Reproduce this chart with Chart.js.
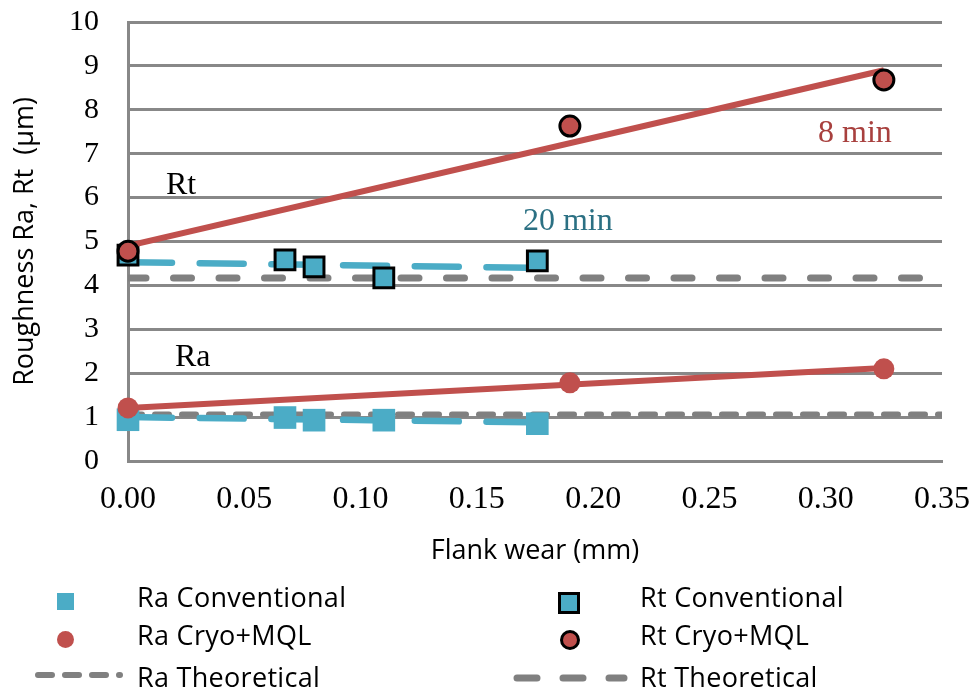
<!DOCTYPE html>
<html><head><meta charset="utf-8">
<script src="https://cdn.jsdelivr.net/npm/chart.js@4.4.0/dist/chart.umd.min.js"></script>
<style>
html,body{margin:0;padding:0;background:#fff;}
#wrap{position:relative;width:976px;height:695px;overflow:hidden;background:#fff;}
#c{position:absolute;left:0;top:0;}
.lg{position:absolute;font-family:'Open Sans',sans-serif;font-size:27px;line-height:30px;letter-spacing:0.3px;color:#000;white-space:nowrap;}
.mk{position:absolute;box-sizing:border-box;}
svg.mk{overflow:visible;}
</style></head><body>
<div id="wrap"><canvas id="c" width="976" height="695"></canvas><div id="legend"></div></div>
<script>
// ---- data ----
const xTickValues = [0, 0.05, 0.10, 0.15, 0.20, 0.25, 0.30, 0.35];
const xTickLabels = ['0.00', '0.05', '0.10', '0.15', '0.20', '0.25', '0.30', '0.35'];
const yTickValues = [0, 1, 2, 3, 4, 5, 6, 7, 8, 9, 10];
const yTickLabels = ['0', '1', '2', '3', '4', '5', '6', '7', '8', '9', '10'];

const convWear = [0, 0.0675, 0.08, 0.11, 0.176];
const raConventional = [0.94, 0.99, 0.93, 0.93, 0.85];
const rtConventional = [4.69, 4.58, 4.42, 4.17, 4.56];

const cryoWear = [0, 0.19, 0.325];
const raCryo = [1.21, 1.78, 2.10];
const rtCryo = [4.78, 7.63, 8.68];

const convTrendWear = [0, 0.176];
const raConvTrend = [1.00, 0.88];
const rtConvTrend = [4.53, 4.40];

const cryoTrendWear = [0, 0.325];
const raCryoTrend = [1.21, 2.12];
const rtCryoTrend = [4.90, 8.90];

const theoWear = [0, 0.35];
const raTheoretical = [1.06, 1.06];
const rtTheoretical = [4.17, 4.17];

const notes = [
  {text: 'Rt', x: 0.0163, y: 6.08, color: '#000000'},
  {text: 'Ra', x: 0.0202, y: 2.16, color: '#000000'},
  {text: '8 min', x: 0.2967, y: 7.27, color: '#A8403E'},
  {text: '20 min', x: 0.1698, y: 5.26, color: '#2B7083'}
];

// ---- styles ----
const BLUE = '#4BACC6', RED = '#C0504D', GREY = '#808080', GRID = '#888888';
const pts = (xs, ys) => xs.map((v, i) => ({x: v, y: ys[i]}));

const datasets = [
  {label: 'Ra Theoretical', data: pts(theoWear, raTheoretical), showLine: true, pointRadius: 0,
   borderColor: GREY, borderWidth: 6, borderDash: [14, 13], borderCapStyle: 'round', order: 10},
  {label: 'Rt Theoretical', data: pts(theoWear, rtTheoretical), showLine: true, pointRadius: 0,
   borderColor: GREY, borderWidth: 7, borderDash: [18, 27.5], borderCapStyle: 'round', order: 9},
  {label: 'Ra Conventional trend', data: pts(convTrendWear, raConvTrend), showLine: true, pointRadius: 0,
   borderColor: BLUE, borderWidth: 6.5, borderDash: [44, 27.7], borderCapStyle: 'round', order: 8},
  {label: 'Rt Conventional trend', data: pts(convTrendWear, rtConvTrend), showLine: true, pointRadius: 0,
   borderColor: BLUE, borderWidth: 6.5, borderDash: [44, 27.7], borderCapStyle: 'round', order: 7},
  {label: 'Ra Conventional', data: pts(convWear, raConventional), showLine: false, pointStyle: 'rect',
   pointRadius: 16, backgroundColor: BLUE, borderWidth: 0, clip: false, order: 6},
  {label: 'Rt Conventional', data: pts(convWear, rtConventional), showLine: false, pointStyle: 'rect',
   pointRadius: 14, backgroundColor: BLUE, borderColor: '#000', borderWidth: 3, clip: false, order: 5},
  {label: 'Ra Cryo trend', data: pts(cryoTrendWear, raCryoTrend), showLine: true, pointRadius: 0,
   borderColor: RED, borderWidth: 6, order: 4},
  {label: 'Rt Cryo trend', data: pts(cryoTrendWear, rtCryoTrend), showLine: true, pointRadius: 0,
   borderColor: RED, borderWidth: 6, order: 3},
  {label: 'Ra Cryo+MQL', data: pts(cryoWear, raCryo), showLine: false, pointStyle: 'circle',
   pointRadius: 10.5, backgroundColor: RED, borderWidth: 0, clip: false, order: 2},
  {label: 'Rt Cryo+MQL', data: pts(cryoWear, rtCryo), showLine: false, pointStyle: 'circle',
   pointRadius: 10, backgroundColor: RED, borderColor: '#000', borderWidth: 3, clip: false, order: 1}
];

const notesPlugin = {
  id: 'notes',
  afterDatasetsDraw(chart) {
    const {ctx, scales: {x, y}} = chart;
    ctx.save();
    ctx.font = '32px "Liberation Serif"';
    ctx.textAlign = 'left';
    ctx.textBaseline = 'alphabetic';
    notes.forEach(n => {
      ctx.fillStyle = n.color;
      ctx.fillText(n.text, x.getPixelForValue(n.x), y.getPixelForValue(n.y));
    });
    ctx.restore();
  }
};

new Chart(document.getElementById('c'), {
  type: 'scatter',
  data: {datasets},
  plugins: [notesPlugin],
  options: {
    responsive: false,
    animation: false,
    events: [],
    devicePixelRatio: 1,
    layout: {padding: {left: 0, top: 22, right: 34, bottom: 122}},
    plugins: {legend: {display: false}, tooltip: {enabled: false}},
    scales: {
      x: {
        type: 'linear', min: 0, max: 0.35,
        afterFit(s) { s.height = 112; s.paddingLeft = 0; s.paddingRight = 0; },
        afterBuildTicks(s) { s.ticks = xTickValues.map(v => ({value: v})); },
        ticks: {
          autoSkip: false, maxRotation: 0, padding: 19, color: '#000',
          font: {family: "'Liberation Serif', serif", size: 32},
          callback: (v, i) => xTickLabels[i]
        },
        grid: {display: false, drawTicks: false},
        border: {display: true, color: GRID, width: 3},
        title: {display: true, text: 'Flank wear (mm)', color: '#000',
          font: {family: "'Open Sans', sans-serif", size: 27}, padding: {top: 0, bottom: 5}}
      },
      y: {
        type: 'linear', min: 0, max: 10,
        afterFit(s) { s.width = 128; s.paddingTop = 0; s.paddingBottom = 0; },
        afterBuildTicks(s) { s.ticks = yTickValues.map(v => ({value: v})); },
        ticks: {
          autoSkip: false, padding: 29, color: '#000',
          font: {family: "'Liberation Serif', serif", size: 30},
          callback: (v, i) => yTickLabels[i]
        },
        grid: {color: GRID, lineWidth: 3, drawTicks: false},
        border: {display: true, color: GRID, width: 3},
        title: {display: true, text: 'Roughness Ra, Rt  (\u00b5m)', color: '#000',
          font: {family: "'Open Sans', sans-serif", size: 27}, padding: {top: 9, bottom: 0}}
      }
    }
  }
});

// ---- HTML legend (two columns, three rows) ----
const legendItems = [
  {text: 'Ra Conventional', tx: 137, ty: 582, mk: {kind: 'rect', cx: 65, cy: 601, size: 17, fill: BLUE, border: 0}},
  {text: 'Ra Cryo+MQL', tx: 137, ty: 620, mk: {kind: 'circle', cx: 65, cy: 639, size: 17, fill: RED, border: 0}},
  {text: 'Ra Theoretical', tx: 137, ty: 662, mk: {kind: 'dash', x1: 38, x2: 120, y: 675, w: 6, dash: '14 13'}},
  {text: 'Rt Conventional', tx: 640, ty: 582, mk: {kind: 'rect', cx: 569, cy: 603, size: 22, fill: BLUE, border: 3}},
  {text: 'Rt Cryo+MQL', tx: 640, ty: 620, mk: {kind: 'circle', cx: 570, cy: 640, size: 20, fill: RED, border: 3}},
  {text: 'Rt Theoretical', tx: 640, ty: 662, mk: {kind: 'dash', x1: 517, x2: 624, y: 678, w: 7, dash: '20 26'}}
];
const lg = document.getElementById('legend');
legendItems.forEach(it => {
  const t = document.createElement('div');
  t.className = 'lg';
  t.style.left = it.tx + 'px';
  t.style.top = it.ty + 'px';
  t.textContent = it.text;
  lg.appendChild(t);
  const m = it.mk;
  if (m.kind === 'dash') {
    const ns = 'http://www.w3.org/2000/svg';
    const s = document.createElementNS(ns, 'svg');
    s.setAttribute('class', 'mk');
    s.setAttribute('width', 976); s.setAttribute('height', 695);
    s.style.left = '0px'; s.style.top = '0px';
    const l = document.createElementNS(ns, 'line');
    l.setAttribute('x1', m.x1); l.setAttribute('x2', m.x2);
    l.setAttribute('y1', m.y); l.setAttribute('y2', m.y);
    l.setAttribute('stroke', GREY); l.setAttribute('stroke-width', m.w);
    l.setAttribute('stroke-dasharray', m.dash); l.setAttribute('stroke-linecap', 'round');
    s.appendChild(l);
    lg.appendChild(s);
  } else {
    const d = document.createElement('div');
    d.className = 'mk';
    d.style.left = (m.cx - m.size / 2) + 'px';
    d.style.top = (m.cy - m.size / 2) + 'px';
    d.style.width = m.size + 'px';
    d.style.height = m.size + 'px';
    d.style.background = m.fill;
    if (m.border) d.style.border = m.border + 'px solid #000';
    if (m.kind === 'circle') d.style.borderRadius = '50%';
    lg.appendChild(d);
  }
});
</script>
</body></html>
